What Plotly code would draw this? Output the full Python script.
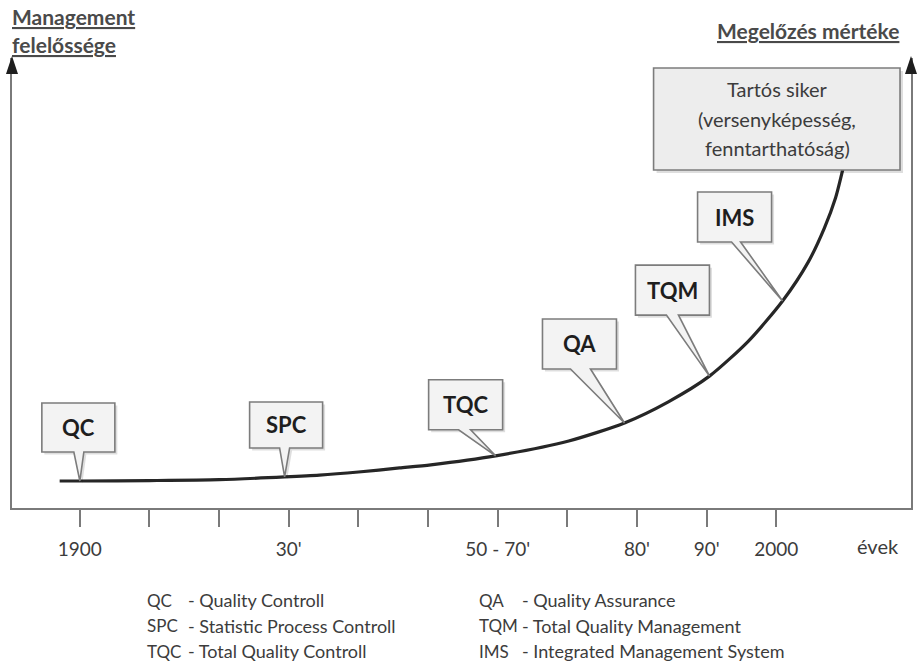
import plotly.graph_objects as go

# ---------------- data ----------------
tick_labels = ["1900", "", "", "30'", "", "", "50 - 70'", "", "80'", "90'", "2000"]
tick_pos = list(range(len(tick_labels)))

curve_x = [-0.29, 0.0, 1.0, 2.0, 2.94, 3.44, 4.0, 4.59, 5.04, 5.97, 7.02, 7.82,
           8.45, 9.04, 9.6, 10.09, 10.46, 10.69, 10.85, 10.96]
curve_y = [6.0, 6.0, 6.1, 6.3, 6.9, 7.3, 8.0, 8.9, 9.6, 11.6, 14.9, 18.9,
           23.6, 29.3, 37.1, 46.0, 54.7, 62.2, 68.9, 75.6]

stages = ["QC", "SPC", "TQC", "QA", "TQM", "IMS"]
stage_x = [0.0, 2.94, 5.97, 7.82, 9.04, 10.09]
stage_y = [6.0, 6.9, 11.6, 18.9, 29.3, 46.0]

legend_codes = ["QC", "SPC", "TQC", "QA", "TQM", "IMS"]
legend_names = ["- Quality Controll", "- Statistic Process Controll", "- Total Quality Controll",
                "- Quality Assurance", "- Total Quality Management", "- Integrated Management System"]

goal_lines = ["Tartós siker", "(versenyképesség,", "fenntarthatóság)"]
y_title_left = ["Management", "felelőssége"]
y_title_right = "Megelőzés mértéke"
x_title = "évek"

# ---------------- layout helpers (pixel geometry) ----------------
W, H = 922, 665
PL, PR, PT, PB = 12, 913, 58, 508          # plot area in pixels
X0PX, DXPX = 80, 69.8                      # pixel of tick 0, pixels per tick
DYPX = 4.5                                 # pixels per y unit
XR = [(PL - X0PX) / DXPX, (PR - X0PX) / DXPX]
YR = [0, (PB - PT) / DYPX]

def px2x(p):
    return (p - X0PX) / DXPX

def py2y(p):
    return (PB - p) / DYPX

def px2paper(p):
    return (p - PL) / (PR - PL)

def py2paper(p):
    return (PB - p) / (PB - PT)

FONT = "Lato"
TXT = "#3c3c3c"
AXC = "#7a7a7a"

fig = go.Figure()
fig.add_trace(go.Scatter(x=curve_x, y=curve_y, mode="lines",
                         line=dict(color="#262626", width=3.2, shape="spline", smoothing=0.7),
                         hoverinfo="skip", showlegend=False))

shapes = []
annotations = []

# callout geometry relative to the tip (pixels, y up): left, right, bottom, top, base-left, base-right
callout_geom = [(-38, 35, 29, 78, -6, 4),
                (-35, 38, 29, 75, -5, 5),
                (-67, 7, 26, 76, -37, -25),
                (-82, -8, 54, 104, -54, -34),
                (-74, 0, 61, 111, -43, -31),
                (-85, -11, 59, 109, -51, -42)]

def callout_path(l, r, b, t, bl, br, dx=0, dy=0):
    pts = [(l, t), (r, t), (r, b), (br, b), (0, 0), (bl, b), (l, b)]
    return "M " + " L ".join(f"{x+dx},{y+dy}" for x, y in pts) + " Z"

for name, sx, sy, g in zip(stages, stage_x, stage_y, callout_geom):
    l, r, b, t, bl, br = g
    shapes.append(dict(type="path", xref="x", yref="y", xsizemode="pixel", ysizemode="pixel",
                       xanchor=sx, yanchor=sy, path=callout_path(l, r, b, t, bl, br, 2.5, -2.5),
                       fillcolor="rgba(0,0,0,0.13)", line=dict(width=0), layer="above"))
    shapes.append(dict(type="path", xref="x", yref="y", xsizemode="pixel", ysizemode="pixel",
                       xanchor=sx, yanchor=sy, path=callout_path(l, r, b, t, bl, br),
                       fillcolor="#f3f3f3", line=dict(color="#7c7c7c", width=1.6), layer="above"))
    annotations.append(dict(x=sx, y=sy, xref="x", yref="y", xshift=(l + r) / 2, yshift=(b + t) / 2,
                            xanchor="center", yanchor="middle",
                            text=name, showarrow=False,
                            font=dict(family=FONT, size=22, color="#1e1e1e", weight="bold")))

# goal box
GB = (655, 902, 68, 170)
shapes.append(dict(type="rect", xref="x", yref="y",
                   x0=px2x(GB[0] + 3), x1=px2x(GB[1] + 3), y0=py2y(GB[3] + 3), y1=py2y(GB[2] + 3),
                   fillcolor="rgba(0,0,0,0.13)", line=dict(width=0), layer="above"))
shapes.append(dict(type="rect", xref="x", yref="y",
                   x0=px2x(GB[0]), x1=px2x(GB[1]), y0=py2y(GB[3]), y1=py2y(GB[2]),
                   fillcolor="#ededed", line=dict(color="#7c7c7c", width=1.6), layer="above"))
for i, line in enumerate(goal_lines):
    annotations.append(dict(x=px2paper(779), y=py2paper(89 + 29.5 * i), xref="paper", yref="paper",
                            xanchor="center", yanchor="middle",
                            text=line, showarrow=False,
                            font=dict(family=FONT, size=20, color=TXT)))

# axis arrows
for xp in (0, 1):
    shapes.append(dict(type="path", xref="paper", yref="paper", xsizemode="pixel", ysizemode="pixel",
                       xanchor=xp, yanchor=1, path="M -6,-16 L 6,-16 L 0,2 Z",
                       fillcolor="#1e1e1e", line=dict(width=0), layer="above"))

# axis titles
for i, t in enumerate(y_title_left):
    annotations.append(dict(x=px2paper(10), y=py2paper(17 + 27 * i), xref="paper", yref="paper",
                            xanchor="left", yanchor="middle", text=t, showarrow=False,
                            font=dict(family=FONT, size=21, color="#4a4a4a", weight="bold",
                                      lineposition="under")))
annotations.append(dict(x=px2paper(903), y=py2paper(31), xref="paper", yref="paper",
                        xanchor="right", yanchor="middle", text=y_title_right, showarrow=False,
                        font=dict(family=FONT, size=21, color="#4a4a4a", weight="bold",
                                  lineposition="under")))
annotations.append(dict(x=px2paper(880), y=py2paper(546), xref="paper", yref="paper",
                        xanchor="center", yanchor="middle",
                        text=x_title, showarrow=False, font=dict(family=FONT, size=20, color=TXT)))

# legend text
for k, (c, n) in enumerate(zip(legend_codes, legend_names)):
    col, row = divmod(k, 3)
    xc = (145, 478)[col]
    xn = (186, 521)[col]
    yy = 600 + 25.5 * row
    annotations.append(dict(x=px2paper(xc), y=py2paper(yy), xref="paper", yref="paper",
                            xanchor="left", yanchor="middle",
                            text=c, showarrow=False, font=dict(family=FONT, size=17, color=TXT)))
    annotations.append(dict(x=px2paper(xn), y=py2paper(yy), xref="paper", yref="paper",
                            xanchor="left", yanchor="middle",
                            text=n, showarrow=False, font=dict(family=FONT, size=18, color=TXT)))

fig.update_layout(
    width=W, height=H, margin=dict(l=PL, r=W - PR, t=PT, b=H - PB),
    paper_bgcolor="white", plot_bgcolor="white", showlegend=False,
    shapes=shapes, annotations=annotations,
    xaxis=dict(range=XR, showgrid=False, zeroline=False, showline=True, linecolor=AXC, linewidth=2,
               ticks="outside", ticklen=17, tickwidth=2, tickcolor=AXC,
               tickvals=tick_pos, ticktext=tick_labels, ticklabelstandoff=6,
               tickfont=dict(family=FONT, size=19, color=TXT), fixedrange=True),
    yaxis=dict(range=YR, showgrid=False, zeroline=False, showline=True, mirror=True,
               linecolor=AXC, linewidth=2, showticklabels=False, ticks="", fixedrange=True),
)

fig.write_html("out.html", config={"displayModeBar": False},
               post_script="document.body.style.margin='0';")
